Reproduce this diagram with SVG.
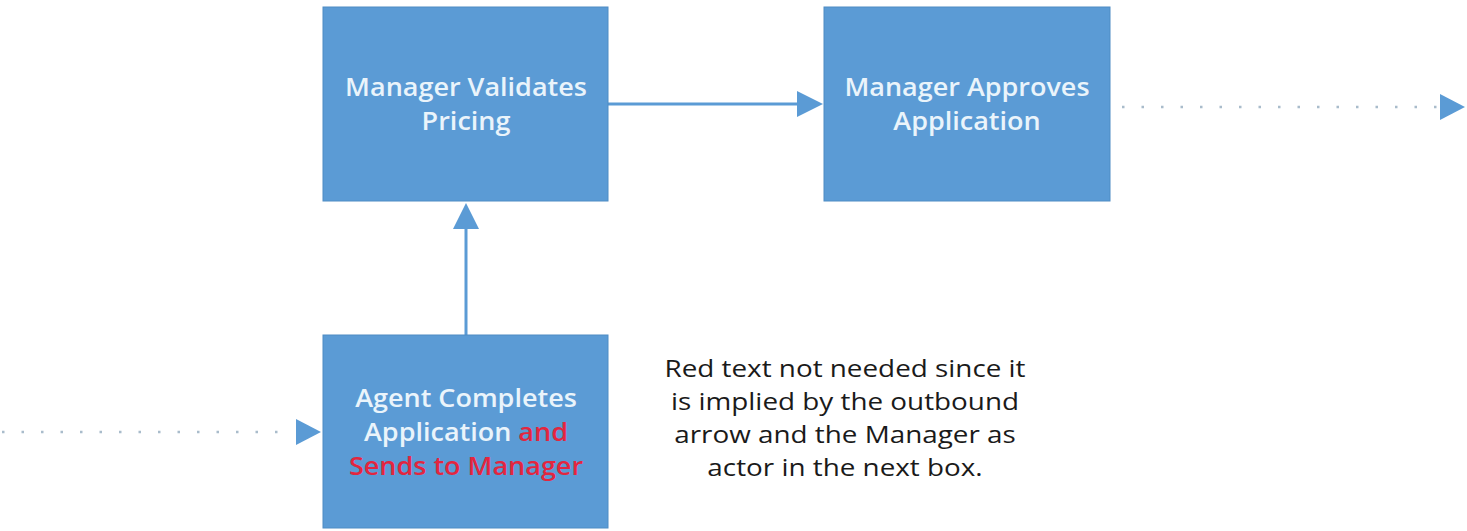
<svg xmlns="http://www.w3.org/2000/svg" width="1467" height="531" viewBox="0 0 1467 531">
  <style>
    .box { fill: #5B9BD5; stroke: #4F8CC4; stroke-width: 1; }
    .lbl { font-family: "Open Sans", "Noto Sans", sans-serif; font-size: 25px; font-weight: 600; fill: #EAF4FB; text-anchor: middle; }
    .red { fill: #E3263F; }
    .note { font-family: "Open Sans", "Noto Sans", sans-serif; font-size: 24px; fill: #1a1a1a; text-anchor: middle; }
    .solid { stroke: #5B9BD5; stroke-width: 3; fill: none; }
    .dots { stroke: #A9BCCB; stroke-width: 2.5; stroke-dasharray: 2.5 17; fill: none; }
  </style>
  <rect width="1467" height="531" fill="#ffffff"/>

  <g id="connectors">
    <!-- up from Agent box to Validates box -->
    <line class="solid" x1="466" y1="335" x2="466" y2="228"/>
    <path d="M466,203 L479,229 L453,229 Z" fill="#5B9BD5"/>
    <!-- Validates to Approves -->
    <line class="solid" x1="608" y1="104" x2="798" y2="104"/>
    <path d="M823,104 L797,91 L797,117 Z" fill="#5B9BD5"/>
    <!-- outbound dotted -->
    <line class="dots" x1="1122" y1="107" x2="1438" y2="107"/>
    <path d="M1465,107 L1440,94 L1440,120 Z" fill="#5B9BD5"/>
    <!-- inbound dotted -->
    <line class="dots" x1="2" y1="432" x2="292" y2="432"/>
    <path d="M321,432 L296,419 L296,445 Z" fill="#5B9BD5"/>
  </g>

  <g id="validates">
    <rect class="box" x="323" y="7" width="285" height="194"/>
    <g transform="translate(466 0) scale(1.08 1)">
      <text class="lbl" x="0" y="96">Manager Validates</text>
      <text class="lbl" x="0" y="130">Pricing</text>
    </g>
  </g>

  <g id="approves">
    <rect class="box" x="824" y="7" width="286" height="194"/>
    <g transform="translate(967 0) scale(1.08 1)">
      <text class="lbl" x="0" y="96">Manager Approves</text>
      <text class="lbl" x="0" y="130">Application</text>
    </g>
  </g>

  <g id="agent">
    <rect class="box" x="323" y="335" width="285" height="193"/>
    <g transform="translate(466 0) scale(1.08 1)">
      <text class="lbl" x="0" y="407">Agent Completes</text>
      <text class="lbl" x="0" y="441">Application <tspan class="red">and</tspan></text>
      <text class="lbl red" x="0" y="475">Sends to Manager</text>
    </g>
  </g>

  <g id="note" transform="translate(845 0) scale(1.16 1)">
    <text class="note" x="0" y="377">Red text not needed since it</text>
    <text class="note" x="0" y="410">is implied by the outbound</text>
    <text class="note" x="0" y="443">arrow and the Manager as</text>
    <text class="note" x="0" y="476">actor in the next box.</text>
  </g>
</svg>
